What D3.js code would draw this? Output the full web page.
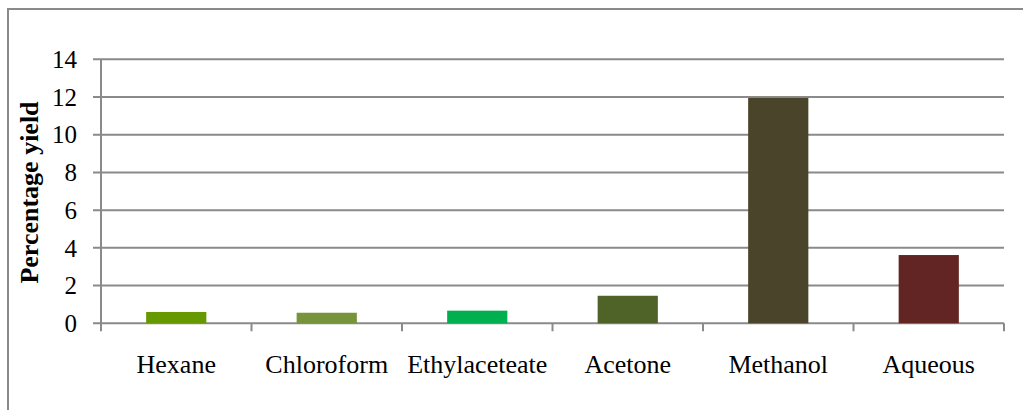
<!DOCTYPE html>
<html lang="en">
<head>
    <meta charset="UTF-8">
    <title>Percentage yield</title>
    <style>
        body { margin: 0; background: #fff; }
        svg text { font-family: "Liberation Serif", "Times New Roman", serif; fill: #000; }
        .tick-label { font-size: 25px; }
        .cat-label { font-size: 26px; }
        .axis-title { font-size: 26px; font-weight: bold; }
    </style>
</head>
<body>
    <div id="chart"></div>

    <script src="https://d3js.org/d3.v7.min.js"></script>
    <script>
        const categories = ["Hexane", "Chloroform", "Ethylaceteate", "Acetone", "Methanol", "Aqueous"];
        const yieldValues = [0.6, 0.56, 0.67, 1.46, 11.95, 3.62];
        const barColors = ["#669900", "#77933c", "#00b050", "#4f6228", "#4a452a", "#632523"];
        const yTicks = [0, 2, 4, 6, 8, 10, 12, 14];

        const width = 1023;
        const height = 410;
        const plot = { left: 101, right: 1004, top: 59.3, bottom: 323.3 };
        const gridColor = "#8a8a8a";

        const data = categories.map((c, i) => ({ name: c, value: yieldValues[i], color: barColors[i] }));

        const svg = d3.select("#chart").append("svg")
            .attr("width", width)
            .attr("height", height);

        // outer chart frame (only top and left are visible in the picture)
        svg.append("rect")
            .attr("x", 8)
            .attr("y", 9)
            .attr("width", width + 20)
            .attr("height", height + 20)
            .attr("fill", "none")
            .attr("stroke", "#8a8a8a")
            .attr("stroke-width", 2);

        const x = d3.scaleBand()
            .domain(categories)
            .range([plot.left, plot.right])
            .paddingInner(0.6)
            .paddingOuter(0.3);

        const y = d3.scaleLinear()
            .domain([0, 14])
            .range([plot.bottom, plot.top]);

        // gridlines + left ticks
        svg.append("g")
            .selectAll("line")
            .data(yTicks)
            .enter()
            .append("line")
            .attr("x1", plot.left - 8)
            .attr("x2", plot.right)
            .attr("y1", d => y(d))
            .attr("y2", d => y(d))
            .attr("stroke", gridColor)
            .attr("stroke-width", 2);

        svg.append("g")
            .selectAll("text")
            .data(yTicks)
            .enter()
            .append("text")
            .attr("class", "tick-label")
            .attr("x", 77)
            .attr("y", d => y(d))
            .attr("dy", ".35em")
            .attr("text-anchor", "end")
            .text(d => d);

        // bars
        svg.append("g")
            .selectAll("rect")
            .data(data)
            .enter()
            .append("rect")
            .attr("x", d => x(d.name))
            .attr("y", d => y(d.value))
            .attr("width", x.bandwidth())
            .attr("height", d => y(0) - y(d.value))
            .attr("fill", d => d.color);

        // y axis line
        svg.append("line")
            .attr("x1", plot.left)
            .attr("x2", plot.left)
            .attr("y1", plot.top)
            .attr("y2", plot.bottom)
            .attr("stroke", gridColor)
            .attr("stroke-width", 2);

        // category boundary ticks
        const boundaries = d3.range(categories.length + 1).map(i => plot.left + i * x.step());
        svg.append("g")
            .selectAll("line")
            .data(boundaries)
            .enter()
            .append("line")
            .attr("x1", d => d)
            .attr("x2", d => d)
            .attr("y1", plot.bottom)
            .attr("y2", plot.bottom + 8)
            .attr("stroke", gridColor)
            .attr("stroke-width", 2);

        svg.append("g")
            .selectAll("text")
            .data(data)
            .enter()
            .append("text")
            .attr("class", "cat-label")
            .attr("x", d => x(d.name) + x.bandwidth() / 2)
            .attr("y", 373)
            .attr("text-anchor", "middle")
            .text(d => d.name);

        svg.append("text")
            .attr("class", "axis-title")
            .attr("transform", "translate(38,192.5) rotate(-90)")
            .attr("text-anchor", "middle")
            .text("Percentage yield");
    </script>
</body>
</html>
